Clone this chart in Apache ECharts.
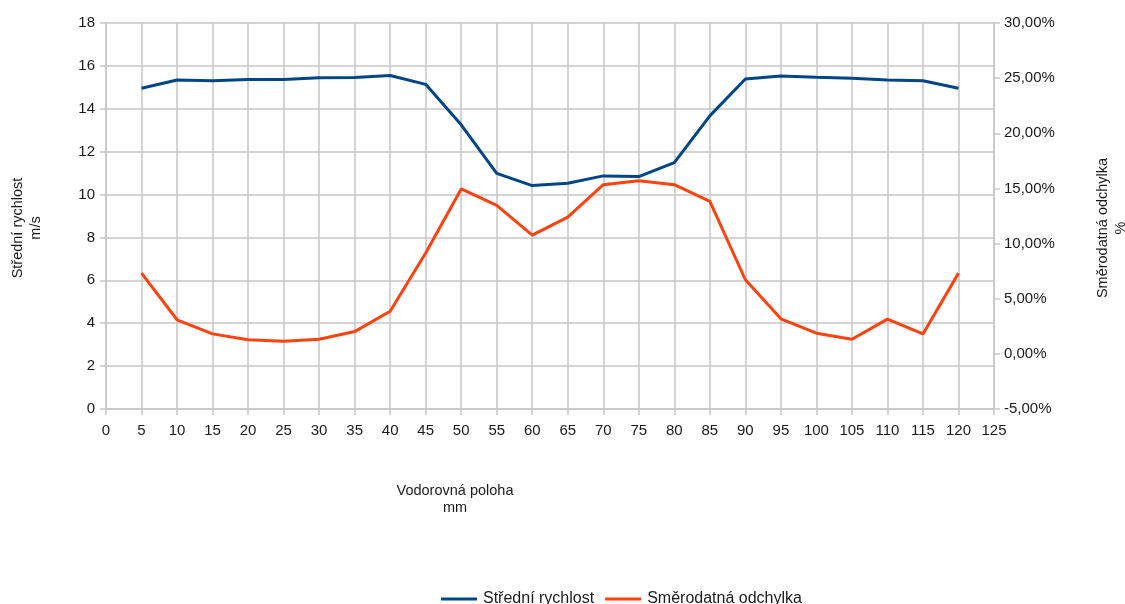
<!DOCTYPE html>
<html>
<head>
<meta charset="utf-8">
<script src="https://cdn.jsdelivr.net/npm/echarts@6/dist/echarts.min.js"></script>
<style>
  html, body { margin: 0; padding: 0; background: #fff; }
  #chart { width: 1125px; height: 604px; }
</style>
</head>
<body>
<div id="chart"></div>
<script>
// Horizontal position across the section, mm
const positions = [5, 10, 15, 20, 25, 30, 35, 40, 45, 50, 55, 60, 65, 70, 75, 80, 85, 90, 95, 100, 105, 110, 115, 120];
// Mean velocity, m/s
const meanVelocity = [14.96, 15.34, 15.31, 15.36, 15.36, 15.45, 15.46, 15.55, 15.14, 13.25, 10.99, 10.42, 10.53, 10.87, 10.84, 11.49, 13.67, 15.39, 15.53, 15.47, 15.42, 15.34, 15.31, 14.96];
// Standard deviation, %
const stdDeviation = [7.32, 3.09, 1.81, 1.27, 1.15, 1.33, 2.02, 3.87, 9.14, 14.95, 13.46, 10.77, 12.40, 15.34, 15.70, 15.34, 13.82, 6.72, 3.18, 1.87, 1.33, 3.15, 1.81, 7.32];

const seriesNames = ['Střední rychlost', 'Směrodatná odchylka'];
const xTitle = 'Vodorovná poloha\nmm';
const yLeftTitle = 'Střední rychlost\nm/s';
const yRightTitle = 'Směrodatná odchylka\n%';

const FONT = '"Liberation Sans", Arial, sans-serif';
const TXT = '#1a1a1a';
const GRID = '#c6c6c6';

const pairs = (ys) => positions.map((x, i) => [x, ys[i]]);

const chart = echarts.init(document.getElementById('chart'));
chart.setOption({
  animation: false,
  backgroundColor: '#ffffff',
  textStyle: { fontFamily: FONT },
  grid: { left: 106, right: 131, top: 23, bottom: 195, containLabel: false },
  legend: {
    top: 586,
    left: 436,
    itemWidth: 36,
    itemHeight: 3,
    itemGap: 11,
    icon: 'rect',
    textStyle: { fontFamily: FONT, fontSize: 16, color: TXT, padding: [0, 0, 0, 1] },
    data: seriesNames
  },
  xAxis: {
    type: 'value',
    min: 0, max: 125, interval: 5,
    axisLine: { show: true, lineStyle: { color: GRID, width: 1.5 } },
    axisTick: { show: true, length: 6, lineStyle: { color: GRID, width: 1.5 } },
    axisLabel: { color: TXT, fontSize: 15, fontFamily: FONT, margin: 14 },
    splitLine: { show: true, lineStyle: { color: GRID, width: 1.5 } }
  },
  yAxis: [
    {
      type: 'value',
      min: 0, max: 18, interval: 2,
      axisLine: { show: true, lineStyle: { color: GRID, width: 1.5 } },
      axisTick: { show: true, length: 6, lineStyle: { color: GRID, width: 1.5 } },
      axisLabel: { color: TXT, fontSize: 15, fontFamily: FONT, margin: 11 },
      splitLine: { show: true, lineStyle: { color: GRID, width: 1.5 } }
    },
    {
      type: 'value',
      min: -5, max: 30, interval: 5,
      position: 'right',
      axisLine: { show: true, lineStyle: { color: GRID, width: 1.5 } },
      axisTick: { show: true, length: 6, lineStyle: { color: GRID, width: 1.5 } },
      axisLabel: {
        color: TXT, fontSize: 15, fontFamily: FONT, margin: 10,
        formatter: (v) => v.toFixed(2).replace('.', ',') + '%'
      },
      splitLine: { show: false }
    }
  ],
  series: [
    {
      name: seriesNames[0],
      type: 'line',
      yAxisIndex: 0,
      data: pairs(meanVelocity),
      symbol: 'none',
      color: '#004586',
      lineStyle: { width: 3, color: '#004586' }
    },
    {
      name: seriesNames[1],
      type: 'line',
      yAxisIndex: 1,
      data: pairs(stdDeviation),
      symbol: 'none',
      color: '#ff420e',
      lineStyle: { width: 3, color: '#ff420e' }
    }
  ],
  graphic: [
    {
      type: 'text',
      position: [455, 482],
      style: { text: xTitle, font: '14.5px ' + FONT, fill: TXT, textAlign: 'center', lineHeight: 17 }
    },
    {
      type: 'text',
      rotation: Math.PI / 2,
      position: [27, 228],
      style: { text: yLeftTitle, font: '14.5px ' + FONT, fill: TXT, textAlign: 'center', textVerticalAlign: 'middle', lineHeight: 18 }
    },
    {
      type: 'text',
      rotation: Math.PI / 2,
      position: [1112, 228],
      style: { text: yRightTitle, font: '14.5px ' + FONT, fill: TXT, textAlign: 'center', textVerticalAlign: 'middle', lineHeight: 18 }
    }
  ]
});
</script>
</body>
</html>
